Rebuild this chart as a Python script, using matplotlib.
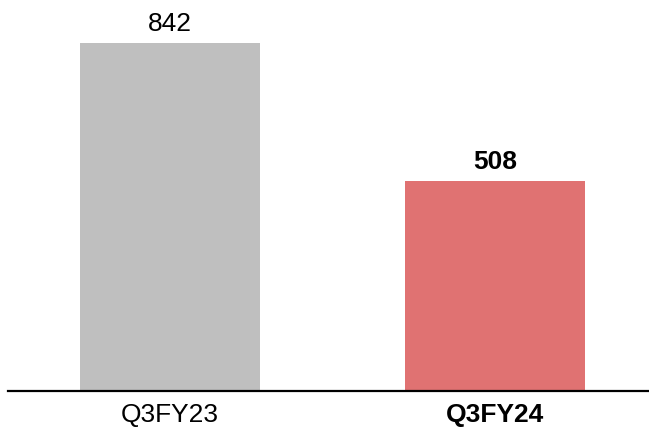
import matplotlib.pyplot as plt

plt.rcParams['font.family'] = ['Liberation Sans', 'DejaVu Sans']

# data
quarters = ['Q3FY23', 'Q3FY24']
values = [842, 508]
colors = ['#bfbfbf', '#e07272']
bold = [False, True]

fig = plt.figure(figsize=(6.49, 4.31), dpi=100)
ax = fig.add_axes([8 / 649, 39 / 431, 641 / 649, 392 / 431])

x = range(len(quarters))
bars = ax.bar(x, values, width=0.553, color=colors)

for b, v, bw in zip(bars, values, bold):
    ax.annotate(str(v), (b.get_x() + b.get_width() / 2, v),
                xytext=(0, 6), textcoords='offset points',
                ha='center', va='bottom', fontsize=19,
                fontweight='bold' if bw else 'normal')

ax.set_xlim(-0.498, 1.472)
ax.set_ylim(0, 948.4)
ax.set_xticks(list(x))
ax.set_xticklabels(quarters, fontsize=19)
for lbl, bw in zip(ax.get_xticklabels(), bold):
    if bw:
        lbl.set_fontweight('bold')
ax.tick_params(axis='x', length=0, pad=8)
ax.set_yticks([])
for s in ['top', 'right', 'left']:
    ax.spines[s].set_visible(False)
ax.spines['bottom'].set_linewidth(1.6)

fig.savefig('out.png', dpi=100)
